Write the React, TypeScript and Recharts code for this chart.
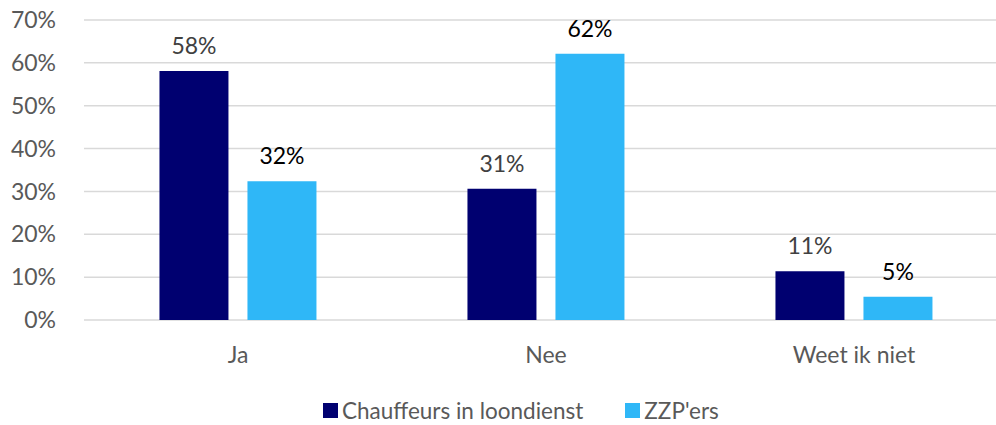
import * as React from 'react';
import { BarChart, Bar, XAxis, YAxis, CartesianGrid, Legend, LabelList } from 'recharts';

const categories = ['Ja', 'Nee', 'Weet ik niet'];
const loondienst = [58.1, 30.6, 11.4];
const zzp = [32.4, 62.1, 5.4];
const yTicks = [0, 10, 20, 30, 40, 50, 60, 70];

const seriesNames = ['Chauffeurs in loondienst', "ZZP'ers"];
const seriesColors = ['#000070', '#2FB7F7'];

const data = categories.map((name, i) => ({ name, loondienst: loondienst[i], zzp: zzp[i] }));

const FONT = 'Lato, "Noto Sans", sans-serif';
const pct = (v: any) => `${Math.round(Number(v))}%`;

function LegendContent() {
    return (
        <div style={{ display: 'flex', gap: 42, fontFamily: FONT, fontSize: 22.5, color: '#595959' }}>
            {seriesNames.map((n, i) => (
                <div key={n} style={{ display: 'flex', alignItems: 'center' }}>
                    <span style={{ display: 'inline-block', width: 15, height: 15, background: seriesColors[i], marginRight: 4 }} />
                    <span>{n}</span>
                </div>
            ))}
        </div>
    );
}

export default function App() {
    return (
        <div style={{ position: 'absolute', left: 0, top: 0, width: 996, height: 425, overflow: 'hidden', fontFamily: FONT }}>
            <BarChart
                width={1008}
                height={425}
                data={data}
                margin={{ top: 20, right: 0, left: 0, bottom: 0 }}
                barCategoryGap="24.5%"
                barGap={19}
            >
                <CartesianGrid vertical={false} stroke="#d9d9d9" strokeWidth={1.5} />
                <XAxis
                    dataKey="name"
                    axisLine={false}
                    tickLine={false}
                    height={77}
                    tick={{ fontSize: 23, fill: '#595959', fontFamily: FONT }}
                    tickMargin={21}
                />
                <YAxis
                    domain={[0, 70]}
                    ticks={yTicks}
                    interval={0}
                    axisLine={false}
                    tickLine={false}
                    width={84}
                    tickMargin={22}
                    tickFormatter={(v: number) => `${v}%`}
                    tick={{ fontSize: 23, fill: '#595959', fontFamily: FONT }}
                />
                <Legend
                    content={<LegendContent />}
                    wrapperStyle={{ position: 'absolute', left: 323, top: 397, width: 500, height: 28 }}
                />
                <Bar dataKey="loondienst" name={seriesNames[0]} fill={seriesColors[0]} isAnimationActive={false}>
                    <LabelList dataKey="loondienst" position="top" offset={17} formatter={pct} style={{ fontSize: 23, fill: '#404040', fontFamily: FONT }} />
                </Bar>
                <Bar dataKey="zzp" name={seriesNames[1]} fill={seriesColors[1]} isAnimationActive={false}>
                    <LabelList dataKey="zzp" position="top" offset={17} formatter={pct} style={{ fontSize: 23, fill: '#000000', fontFamily: FONT }} />
                </Bar>
            </BarChart>
        </div>
    );
}
